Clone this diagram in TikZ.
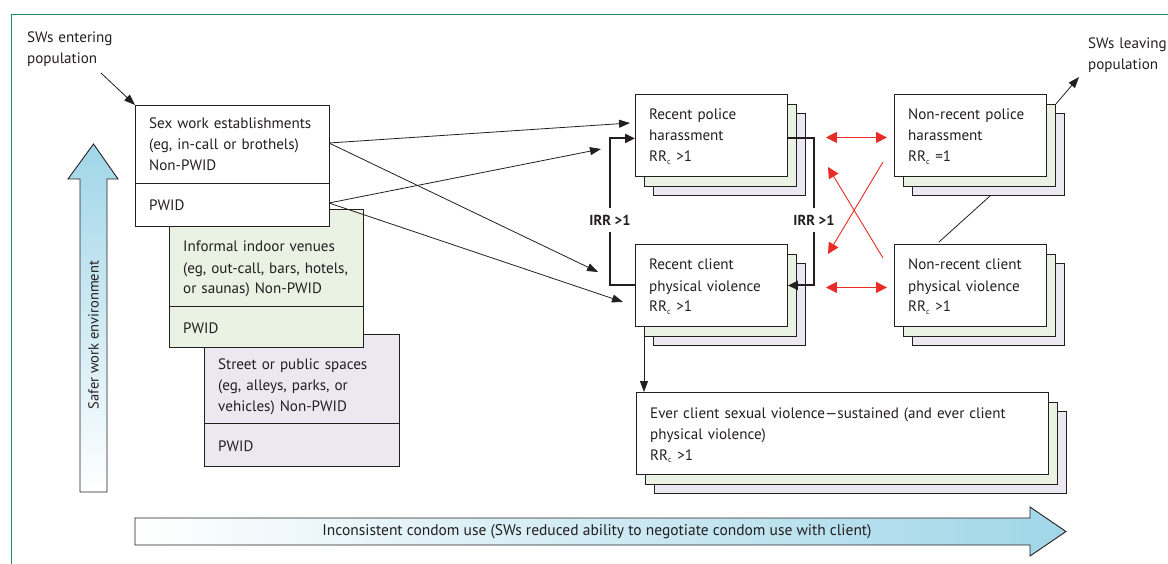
\documentclass[tikz,border=0pt]{standalone}
\usepackage{fontspec}
\setmainfont{PT Sans}
\usepackage{graphicx}
\usetikzlibrary{arrows.meta,calc}
\definecolor{framegreen}{RGB}{30,140,90}
\definecolor{lgreen}{RGB}{234,242,228}
\definecolor{lpurple}{RGB}{235,232,242}
\definecolor{lblue}{RGB}{160,214,232}
\definecolor{redarr}{RGB}{232,45,40}
\definecolor{ink}{RGB}{35,31,32}
\newcommand\stackbox[6]{%
  \node[layer,fill=lpurple,minimum width=#4pt,minimum height=#5pt] (#1-b) at (#2+18,#3+19) {};
  \node[layer,fill=lgreen,minimum width=#4pt,minimum height=#5pt] (#1-a) at (#2+9,#3+10) {};
  \node[layer,fill=white,minimum width=#4pt,minimum height=#5pt] (#1) at (#2,#3) {};
  \node[txt] (#1-t) at (#2+14,#3+26) {#6};
}
\newcommand\rrc{RR\textsubscript{\fontsize{8}{8}\selectfont c}}
\tikzset{
  layer/.style={draw=ink,line width=0.9pt,anchor=north west,inner sep=0pt},
  txt/.style={anchor=base west,inner sep=0pt,text width=420pt,align=left,
    font=\fontsize{15.1}{21}\selectfont,text=ink},
  divider/.style={draw=ink,line width=0.9pt},
  arr/.style={draw=ink,line width=0.8pt,-{Triangle[length=11pt,width=8pt]}},
  irr/.style={draw=ink,line width=2pt},
  irrarr/.style={irr,-{Triangle[length=10pt,width=9pt]}},
  irrlabel/.style={font=\bfseries\fontsize{14.5}{17}\selectfont,text=ink,inner xsep=2pt,inner ysep=7pt},
  redline/.style={draw=redarr,line width=0.9pt},
  redarrow/.style={redline,-{Triangle[length=11pt,width=11pt]}},
  redboth/.style={redline,{Triangle[length=11pt,width=11pt]}-{Triangle[length=11pt,width=11pt]}},
}
\begin{document}
\begin{tikzpicture}[x=1pt,y=-1pt]
\useasboundingbox (0,0) rectangle (1168,564);
% frame
\draw[framegreen,line width=1pt] (11,564) -- (11,15) -- (1168,15);

% entering / leaving labels
\node[txt] (enter) at (27,43) {SWs entering\\population};
\node[txt] (leave) at (1088,49) {SWs leaving\\population};

% vertical gradient arrow
\shade[top color=lblue,bottom color=white,draw=ink,line width=0.9pt]
  (80,492) -- (80,179) -- (68,179) -- (93.5,144) -- (118,179) -- (107,179) -- (107,492) -- cycle;
\node[rotate=90,font=\fontsize{14.5}{17}\selectfont,text=ink] (safer) at (93.5,335) {Safer work environment};

% horizontal gradient arrow
\shade[left color=white,right color=lblue,draw=ink,line width=0.9pt]
  (135,518) -- (1030,518) -- (1030,507) -- (1066,531.5) -- (1030,556) -- (1030,545) -- (135,545) -- cycle;
\node[font=\fontsize{15.5}{17}\selectfont,text=ink] (condom) at (597,531.5) {Inconsistent condom use (SWs reduced ability to negotiate condom use with client)};

% venue boxes (back to front)
\node[layer,fill=lpurple,minimum width=195pt,minimum height=132pt] (st) at (204,334) {};
\draw[divider] ([yshift=-89pt]st.north west) -- ([yshift=-89pt]st.north east);
\node[txt] (st-t) at (218,369) {Street or public spaces\\(eg, alleys, parks, or\\vehicles) Non-PWID};
\node[txt] (st-p) at (218,451) {PWID};

\node[layer,fill=lgreen,minimum width=194pt,minimum height=138pt] (in) at (169,209) {};
\draw[divider] ([yshift=-97pt]in.north west) -- ([yshift=-97pt]in.north east);
\node[txt] (in-t) at (183,252) {Informal indoor venues\\(eg, out-call, bars, hotels,\\or saunas) Non-PWID};
\node[txt] (in-p) at (183,333) {PWID};

\node[layer,fill=white,minimum width=194pt,minimum height=121pt] (se) at (135,105) {};
\draw[divider] ([yshift=-78pt]se.north west) -- ([yshift=-78pt]se.north east);
\node[txt] (se-t) at (149,129) {Sex work establishments\\(eg, in-call or brothels)\\Non-PWID};
\node[txt] (se-p) at (149,211) {PWID};

% outcome boxes
\stackbox{rp}{635}{94}{152}{82}{Recent police\\harassment\\\rrc{} >1}
\stackbox{rc}{635}{244}{152}{82}{Recent client\\physical violence\\\rrc{} >1}
\stackbox{np}{894}{94}{152}{82}{Non-recent police\\harassment\\\rrc{} =1}
\stackbox{nc}{894}{244}{152}{82}{Non-recent client\\physical violence\\\rrc{} >1}
\stackbox{ev}{636}{392}{412}{82}{Ever client sexual violence---sustained (and ever client\\physical violence)\\\rrc{} >1}

% coordinates for free ends
\coordinate (se-o1) at (329,143);
\coordinate (se-o2) at (329,203);
\coordinate (rp-i1) at (630,123);
\coordinate (rp-i2) at (601,149);
\coordinate (rc-i1) at (598,272);
\coordinate (rc-i2) at (623,302);
\coordinate (enter-o) at (101,73);
\coordinate (leave-i) at (1079,77);
\coordinate (np-o) at (990,196);
\coordinate (nc-i) at (939,242);
\coordinate (x1s) at (883,258);
\coordinate (x1e) at (828,167);
\coordinate (x2s) at (883,162);
\coordinate (x2e) at (828,254);

% black arrows
\draw[arr] (enter-o) -- (se.north west);
\draw[arr] (se-o1) -- (rp-i1);
\draw[arr] (se-o1) -- (rc-i1);
\draw[arr] (se-o2) -- (rp-i2);
\draw[arr] (se-o2) -- (rc-i2);
\draw[arr] ([xshift=9pt]rc.south west) -- ([xshift=8pt]ev.north west);
\draw[arr] (np-a.north east) -- (leave-i);
\draw[draw=ink,line width=0.8pt] (np-o) -- (nc-i);

% IRR loops
\node[irrlabel] (irrL) at (610,220) {IRR >1};
\node[irrlabel] (irrR) at (814,220) {IRR >1};
\draw[irr] (rc.west) -| (irrL.south);
\draw[irrarr] (irrL.north) |- ([yshift=-3pt]rp.west);
\draw[irr] ([yshift=-3pt]rp.east) -| (irrR.north);
\draw[irrarr] (irrR.south) |- (rc.east);

% red arrows
\draw[redboth,shorten <=38pt,shorten >=7pt] ([yshift=-2pt]rp.east) -- ([yshift=-2pt]np.west);
\draw[redboth,shorten <=38pt,shorten >=7pt] ([yshift=-2pt]rc.east) -- ([yshift=-2pt]nc.west);
\draw[redarrow] (x1s) -- (x1e);
\draw[redarrow] (x2s) -- (x2e);
\end{tikzpicture}
\end{document}
